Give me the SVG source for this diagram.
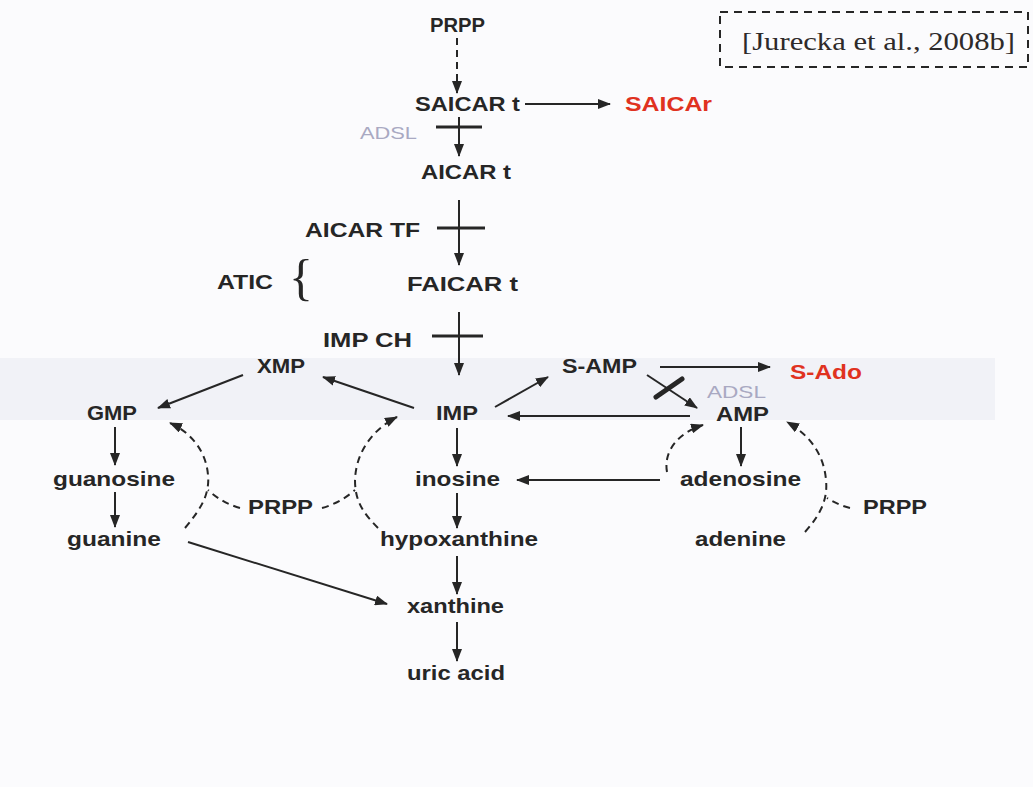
<svg xmlns="http://www.w3.org/2000/svg" width="1033" height="787" viewBox="0 0 1033 787">
<defs>
<style>
.lbl{font-family:"Liberation Sans",Arial,Helvetica,sans-serif;font-weight:bold;font-size:21px;fill:#262626;text-anchor:middle}
.red{fill:#e0321f}
.adsl{font-weight:normal;font-size:17px;fill:#a9a9c2}
.cite{font-family:"Liberation Serif","Times New Roman",serif;font-size:25px;fill:#2e2a2a}
.ln{stroke:#262626;stroke-width:2;fill:none}
.ar{marker-end:url(#ah)}
.dash{stroke-dasharray:7,5}
.bar{stroke:#262626;stroke-width:3;fill:none}
</style>
<marker id="ah" markerUnits="userSpaceOnUse" markerWidth="14" markerHeight="10" refX="12" refY="5" orient="auto">
<path d="M0,0 L13,5 L0,10 z" fill="#262626"/>
</marker>
</defs>
<rect width="1033" height="787" fill="#fbfbfd"/>
<rect x="0" y="358" width="995" height="62" fill="#f1f2f7"/>

<g id="citation">
<rect x="720" y="12" width="308" height="55" fill="none" stroke="#262626" stroke-width="2" stroke-dasharray="8,6"/>
<text class="cite" x="742" y="50" textLength="273" lengthAdjust="spacingAndGlyphs">[Jurecka et al., 2008b]</text>
</g>

<g id="connectors">
<path class="ln ar dash" d="M457,38 L457,93"/>
<path class="ln ar" d="M525,104 L610,104"/>
<path class="ln ar" d="M459,117 L459,156"/>
<path class="bar" d="M436,127 L482,127"/>
<path class="ln ar" d="M459,200 L459,265"/>
<path class="bar" d="M437,228 L485,228"/>
<path class="ln ar" d="M459,312 L459,375"/>
<path class="bar" d="M432,336 L483,336"/>
<path class="ln ar" d="M243,375 L158,408"/>
<path class="ln ar" d="M414,408 L323,377"/>
<path class="ln ar" d="M495,407 L548,377"/>
<path class="ln ar" d="M660,367 L770,367"/>
<path class="ln ar" d="M647,375 L697,408"/>
<path d="M656,397 L682,379" stroke="#262626" stroke-width="5" stroke-linecap="round"/>
<path class="ln ar" d="M690,416 L508,416"/>
<path class="ln ar" d="M115,427 L115,465"/>
<path class="ln ar" d="M115,492 L115,527"/>
<path class="ln ar" d="M457,428 L457,466"/>
<path class="ln ar" d="M457,493 L457,528"/>
<path class="ln ar" d="M457,556 L457,594"/>
<path class="ln ar" d="M457,622 L457,661"/>
<path class="ln ar" d="M741,427 L741,466"/>
<path class="ln ar" d="M660,480 L517,480"/>
<path class="ln ar" d="M188,542 L387,604"/>
<path class="ln ar dash" d="M185,528 C200,510 210,495 208,475 C206,450 190,432 170,423"/>
<path class="ln dash" d="M240,508 Q222,503 208,490"/>
<path class="ln ar dash" d="M378,528 C362,512 355,500 355,480 C356,450 375,428 397,417"/>
<path class="ln dash" d="M322,508 Q340,503 355,490"/>
<path class="ln ar dash" d="M667,472 C663,450 680,432 703,425"/>
<path class="ln ar dash" d="M805,532 C820,515 828,500 826,480 C824,455 810,435 787,422"/>
<path class="ln dash" d="M850,508 Q838,505 827,498"/>
</g>

<g id="n-prpp-top"><text class="lbl" x="457.5" y="32" textLength="55" lengthAdjust="spacingAndGlyphs">PRPP</text></g>
<g id="n-saicar"><text class="lbl" x="467.5" y="111" textLength="105" lengthAdjust="spacingAndGlyphs">SAICAR t</text></g>
<g id="n-saicar-red"><text class="lbl red" x="668.5" y="111" textLength="87" lengthAdjust="spacingAndGlyphs">SAICAr</text></g>
<g id="n-adsl1"><text class="lbl adsl" x="388.5" y="139" textLength="57" lengthAdjust="spacingAndGlyphs">ADSL</text></g>
<g id="n-aicar"><text class="lbl" x="466" y="179" textLength="90" lengthAdjust="spacingAndGlyphs">AICAR t</text></g>
<g id="n-aicartf"><text class="lbl" x="362.5" y="237" textLength="115" lengthAdjust="spacingAndGlyphs">AICAR TF</text></g>
<g id="n-atic"><text class="lbl" x="245" y="289" textLength="56" lengthAdjust="spacingAndGlyphs">ATIC</text>
<text x="301" y="294" font-family="Liberation Serif,serif" font-size="50" fill="#262626" text-anchor="middle">{</text></g>
<g id="n-faicar"><text class="lbl" x="462.5" y="291" textLength="111" lengthAdjust="spacingAndGlyphs">FAICAR t</text></g>
<g id="n-impch"><text class="lbl" x="367.5" y="347" textLength="89" lengthAdjust="spacingAndGlyphs">IMP CH</text></g>
<g id="n-xmp"><text class="lbl" x="281" y="373" textLength="48" lengthAdjust="spacingAndGlyphs">XMP</text></g>
<g id="n-samp"><text class="lbl" x="599.5" y="373" textLength="75" lengthAdjust="spacingAndGlyphs">S-AMP</text></g>
<g id="n-sado"><text class="lbl red" x="826" y="379" textLength="72" lengthAdjust="spacingAndGlyphs">S-Ado</text></g>
<g id="n-adsl2"><text class="lbl adsl" x="736.5" y="398" textLength="59" lengthAdjust="spacingAndGlyphs">ADSL</text></g>
<g id="n-imp"><text class="lbl" x="457" y="420" textLength="42" lengthAdjust="spacingAndGlyphs">IMP</text></g>
<g id="n-amp"><text class="lbl" x="742.5" y="421" textLength="53" lengthAdjust="spacingAndGlyphs">AMP</text></g>
<g id="n-gmp"><text class="lbl" x="112" y="420" textLength="50" lengthAdjust="spacingAndGlyphs">GMP</text></g>
<g id="n-guanosine"><text class="lbl" x="114" y="486" textLength="122" lengthAdjust="spacingAndGlyphs">guanosine</text></g>
<g id="n-inosine"><text class="lbl" x="457.5" y="486" textLength="85" lengthAdjust="spacingAndGlyphs">inosine</text></g>
<g id="n-adenosine"><text class="lbl" x="740.5" y="486" textLength="121" lengthAdjust="spacingAndGlyphs">adenosine</text></g>
<g id="n-prpp-left"><text class="lbl" x="280.5" y="514" textLength="65" lengthAdjust="spacingAndGlyphs">PRPP</text></g>
<g id="n-prpp-right"><text class="lbl" x="895" y="514" textLength="64" lengthAdjust="spacingAndGlyphs">PRPP</text></g>
<g id="n-guanine"><text class="lbl" x="114" y="546" textLength="94" lengthAdjust="spacingAndGlyphs">guanine</text></g>
<g id="n-hypoxanthine"><text class="lbl" x="459" y="546" textLength="158" lengthAdjust="spacingAndGlyphs">hypoxanthine</text></g>
<g id="n-adenine"><text class="lbl" x="740.5" y="546" textLength="91" lengthAdjust="spacingAndGlyphs">adenine</text></g>
<g id="n-xanthine"><text class="lbl" x="455.5" y="613" textLength="97" lengthAdjust="spacingAndGlyphs">xanthine</text></g>
<g id="n-uricacid"><text class="lbl" x="456" y="680" textLength="98" lengthAdjust="spacingAndGlyphs">uric acid</text></g>
</svg>
